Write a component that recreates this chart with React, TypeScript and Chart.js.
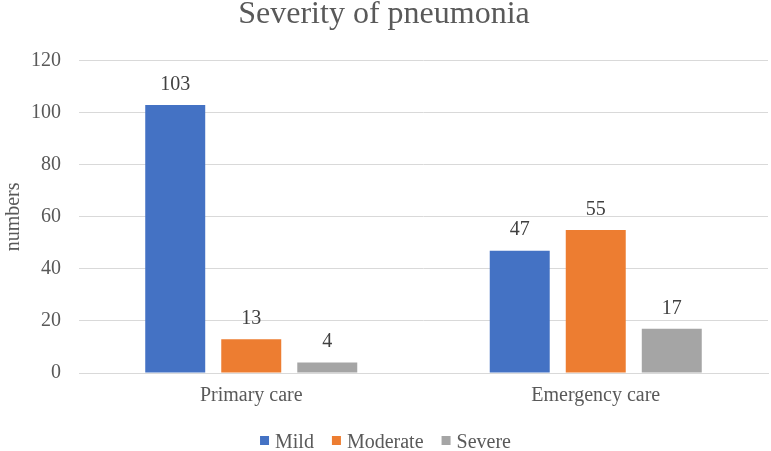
import { useEffect, useRef } from "react";
import { Chart, registerables } from "chart.js";

Chart.register(...registerables);

// Chart data
const categories = ["Primary care", "Emergency care"];
const seriesNames = ["Mild", "Moderate", "Severe"];
const mildCounts = [103, 47];
const moderateCounts = [13, 55];
const severeCounts = [4, 17];
const seriesColors = ["#4472C4", "#ED7D31", "#A5A5A5"];
const yMin = 0;
const yMax = 120;
const yStep = 20;

const SERIF = "'Liberation Serif', 'Times New Roman', serif";
const TEXT_GREY = "#595959";
const GRID_GREY = "#D9D9D9";

// Numbers written above each bar
const valueLabels = {
  id: "valueLabels",
  afterDatasetsDraw(chart: any) {
    const ctx = chart.ctx;
    ctx.save();
    ctx.font = `20px ${SERIF}`;
    ctx.fillStyle = "#404040";
    ctx.textAlign = "center";
    ctx.textBaseline = "middle";
    chart.data.datasets.forEach((ds: any, i: number) => {
      const meta = chart.getDatasetMeta(i);
      meta.data.forEach((bar: any, j: number) => {
        ctx.fillText(String(ds.data[j]), bar.x, bar.y - 20.5);
      });
    });
    ctx.restore();
  },
};

// Bottom legend: small squares followed by series names
const squareLegend = {
  id: "squareLegend",
  afterDraw(chart: any) {
    const ctx = chart.ctx;
    const box = 9;
    const boxGap = 6;
    const itemGap = 18;
    const baseline = 447.5;
    ctx.save();
    ctx.font = `20px ${SERIF}`;
    ctx.textBaseline = "alphabetic";
    ctx.textAlign = "left";
    const items = chart.data.datasets.map((ds: any) => ({
      text: ds.label as string,
      color: ds.backgroundColor as string,
      w: ctx.measureText(ds.label).width,
    }));
    const total =
      items.reduce((s: number, it: any) => s + box + boxGap + it.w, 0) +
      itemGap * (items.length - 1);
    let x = chart.width / 2 - total / 2;
    items.forEach((it: any) => {
      ctx.fillStyle = it.color;
      ctx.fillRect(x, 436, box, box);
      x += box + boxGap;
      ctx.fillStyle = TEXT_GREY;
      ctx.fillText(it.text, x, baseline);
      x += it.w + itemGap;
    });
    ctx.restore();
  },
};

export default function App() {
  const canvasRef = useRef<HTMLCanvasElement | null>(null);

  useEffect(() => {
    document.body.style.margin = "0";
    const canvas = canvasRef.current;
    if (!canvas) return;
    const counts = [mildCounts, moderateCounts, severeCounts];
    const chart = new Chart(canvas, {
      type: "bar",
      data: {
        labels: categories,
        datasets: seriesNames.map((name, i) => ({
          label: name,
          data: counts[i],
          backgroundColor: seriesColors[i],
          borderWidth: 0,
          categoryPercentage: 0.662,
          barPercentage: 0.789,
        })),
      },
      options: {
        responsive: false,
        animation: false,
        devicePixelRatio: 1,
        layout: { padding: { left: 0, right: 3, top: 0, bottom: 30 } },
        plugins: {
          legend: { display: false },
          tooltip: { enabled: false },
          title: {
            display: true,
            text: "Severity of pneumonia",
            color: TEXT_GREY,
            font: { family: SERIF, size: 32, weight: "normal", lineHeight: 0.93 },
            padding: { top: 0, bottom: 31 },
          },
        },
        scales: {
          x: {
            grid: { display: false, drawTicks: false },
            border: { display: true, color: GRID_GREY, width: 1 },
            ticks: {
              color: TEXT_GREY,
              font: { family: SERIF, size: 20 },
              padding: 11,
            },
            afterFit(scale: any) {
              scale.height = 48;
            },
          },
          y: {
            min: yMin,
            max: yMax,
            grid: { color: GRID_GREY, lineWidth: 1, drawTicks: false },
            border: { display: false },
            ticks: {
              stepSize: yStep,
              color: TEXT_GREY,
              font: { family: SERIF, size: 20 },
              padding: 18,
            },
            title: {
              display: true,
              text: "numbers",
              color: TEXT_GREY,
              font: { family: SERIF, size: 20 },
              padding: { top: 2, bottom: 0 },
            },
            afterFit(scale: any) {
              scale.width = 79;
            },
          },
        },
      },
      plugins: [valueLabels, squareLegend],
    });
    return () => chart.destroy();
  }, []);

  return (
    <div style={{ width: 771, height: 451, position: "relative", background: "#fff" }}>
      <canvas ref={canvasRef} width={771} height={451} />
    </div>
  );
}
